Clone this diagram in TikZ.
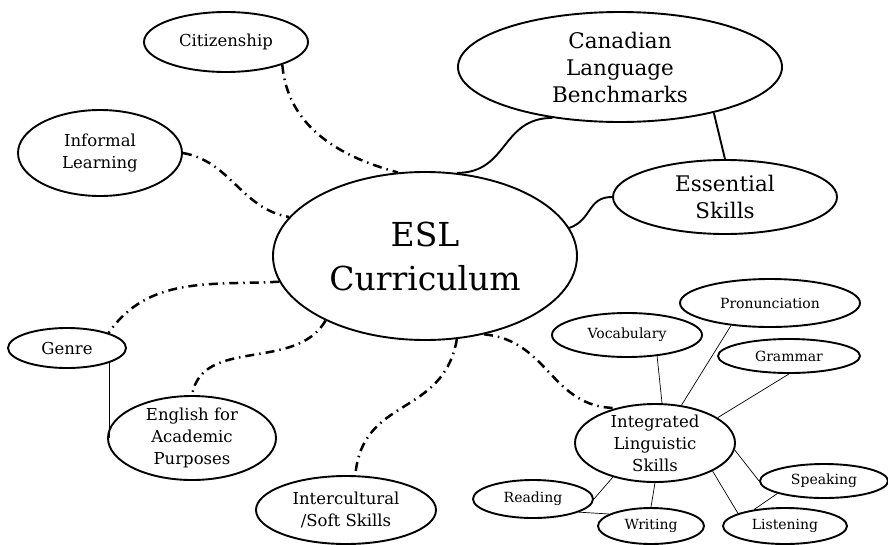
\documentclass[tikz,border=0pt]{standalone}
\usepackage{fontspec}
\setmainfont{DejaVu Serif}
\usetikzlibrary{shapes.geometric}

\begin{document}
\begin{tikzpicture}[x=1pt, y=1pt,
	bubble/.style={draw, ellipse, line width=1.9pt, inner sep=0pt, align=center, font=\fontsize{16.5}{22}\selectfont},
	bigbubble/.style={bubble, font=\fontsize{21.5}{27}\selectfont},
	leaf/.style={bubble, font=\fontsize{14}{20}\selectfont},
	dashlink/.style={line width=2.5pt, dash pattern=on 9pt off 5pt on 1.5pt off 5pt},
	solidlink/.style={line width=1.9pt},
	thinlink/.style={line width=0.7pt}]

	\useasboundingbox (0,0) rectangle (888,-544);

	% centre
	\node[bubble, minimum width=304pt, minimum height=168pt, font=\fontsize{33}{44}\selectfont] (esl) at (425,-256) {ESL\\Curriculum};

	% outer topics
	\node[bubble, minimum width=164pt, minimum height=60pt] (cit) at (226,-42) {Citizenship};
	\node[bubble, minimum width=164pt, minimum height=86pt] (inf) at (100,-153) {Informal\\Learning};
	\node[bigbubble, minimum width=324pt, minimum height=110pt, inner ysep=-4pt] (clb) at (620,-67) {Canadian\\Language\\Benchmarks};
	\node[bigbubble, minimum width=224pt, minimum height=74pt] (es) at (725,-197) {Essential\\Skills};
	\node[bubble, minimum width=118pt, minimum height=40pt] (gen) at (67,-348) {Genre};
	\node[bubble, minimum width=168pt, minimum height=84pt, inner ysep=-6pt] (eap) at (192,-438) {English for\\Academic\\Purposes};
	\node[bubble, minimum width=180pt, minimum height=68pt] (icu) at (346,-510) {Intercultural\\/Soft Skills};
	\node[bubble, minimum width=160pt, minimum height=78pt, inner ysep=-8pt] (ils) at (655,-443) {Integrated\\Linguistic\\Skills};

	% linguistic skills
	\node[leaf, minimum width=180pt, minimum height=48pt] (pro) at (770,-303) {Pronunciation};
	\node[leaf, minimum width=150pt, minimum height=44pt] (voc) at (627,-335) {Vocabulary};
	\node[leaf, minimum width=142pt, minimum height=34pt] (gra) at (789,-356) {Grammar};
	\node[leaf, minimum width=128pt, minimum height=34pt] (spk) at (824,-481) {Speaking};
	\node[leaf, minimum width=120pt, minimum height=38pt] (rea) at (533,-499) {Reading};
	\node[leaf, minimum width=106pt, minimum height=36pt] (wri) at (651,-526) {Writing};
	\node[leaf, minimum width=124pt, minimum height=36pt] (lis) at (785,-526) {Listening};

	% dash-dot links from the centre
	\draw[dashlink] (cit.-22) to[out=-85, in=165] (esl.108);
	\draw[dashlink] (inf.0) to[out=-10, in=170] (esl.164);
	\draw[dashlink] (esl.190) to[out=183, in=55] (gen.20);
	\draw[dashlink] (esl.213) to[out=-120, in=80] (eap.north);
	\draw[dashlink] (esl.-69) to[out=-100, in=85, looseness=1.2] (icu.75);
	\draw[dashlink] (esl.-53) to[out=-5, in=180, looseness=1.1] (ils.138);

	% solid links
	\draw[solidlink] (clb.-143) to[out=180, in=0, looseness=1.2] (esl.69);
	\draw[solidlink] (es.west) to[out=180, in=20, looseness=1.2] (esl.11);
	\draw[solidlink] (clb.-26) -- (es.north);

	% thin links
	\draw[thinlink] (gen.-19) -- (gen.-19 |- eap.west);
	\foreach \a/\b in {ils.80/voc.-35, ils.55/pro.-150, ils.22/gra.south, ils.-5/spk.west,
		ils.-141/rea.east, ils.south/wri.north, ils.-26/lis.165, spk.-165/lis.152, rea.-16/wri.164}{
	\draw[thinlink] (\a) -- (\b);}

\end{tikzpicture}
\end{document}
